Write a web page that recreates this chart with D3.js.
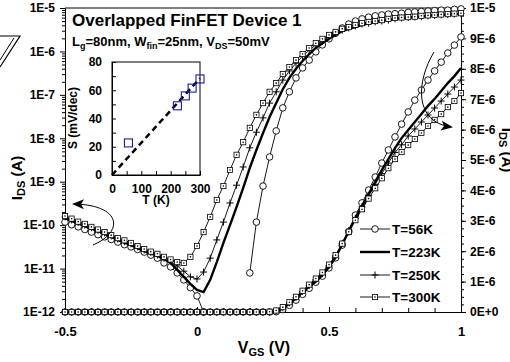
<!DOCTYPE html>
<html><head><meta charset="utf-8">
<script src="https://cdn.jsdelivr.net/npm/d3@7"></script>
<style>
body{margin:0;background:#fff}
svg{display:block}
text{font-family:"Liberation Sans",Arial,sans-serif;font-weight:bold;fill:#000}
</style>
</head><body>
<svg id="c" width="510" height="362"></svg>
<script>
// ---------------- DATA ----------------
const vgs = d3.range(-20, 41).map(i => i / 40);   // -0.5 .. 1.0 step 0.025 (V)
const seriesNames = ["T=56K", "T=223K", "T=250K", "T=300K"];
const seriesMarkers = ["circle", "none", "plus", "square"];

// log10(I_DS) on the left (log) axis
const log56 = [-9.93,-9.99,-10.04,-10.10,-10.16,-10.22,-10.27,-10.33,-10.39,-10.45,
  -10.50,-10.56,-10.62,-10.69,-10.76,-10.87,-10.96,-11.10,-11.26,-11.44,
  -11.63,-12,null,null,null,null,null,null,-11.10,-9.93,
  -9.10,-8.43,-7.83,-7.30,-6.93,-6.61,-6.38,-6.20,-6.01,-5.85,
  -5.71,-5.58,-5.46,-5.37,-5.30,-5.25,-5.21,-5.18,-5.16,-5.14,
  -5.13,-5.12,-5.10,-5.09,-5.08,-5.07,-5.06,-5.05,-5.05,-5.03,-5.02];
const log223 = [-9.84,-9.90,-9.96,-10.02,-10.08,-10.14,-10.20,-10.27,-10.34,-10.40,
  -10.46,-10.53,-10.60,-10.65,-10.71,-10.78,-10.87,-11.03,-11.19,-11.35,
  -11.49,-11.54,-11.26,-10.85,-10.41,-10.00,-9.58,-9.14,-8.68,-8.27,
  -7.88,-7.51,-7.19,-6.87,-6.61,-6.40,-6.22,-6.06,-5.92,-5.81,
  -5.71,-5.62,-5.53,-5.48,-5.44,-5.39,-5.36,-5.32,-5.30,-5.28,
  -5.25,-5.23,-5.22,-5.21,-5.20,-5.18,-5.17,-5.16,-5.15,-5.14,-5.13];
const log250 = [-9.81,-9.88,-9.94,-10.00,-10.06,-10.12,-10.18,-10.25,-10.32,-10.38,
  -10.43,-10.50,-10.57,-10.63,-10.69,-10.76,-10.83,-10.94,-11.06,-11.19,
  -11.24,-11.08,-10.76,-10.34,-9.93,-9.49,-9.08,-8.66,-8.22,-7.86,
  -7.53,-7.19,-6.93,-6.66,-6.45,-6.27,-6.11,-5.97,-5.85,-5.76,
  -5.67,-5.58,-5.51,-5.46,-5.41,-5.37,-5.35,-5.32,-5.30,-5.28,
  -5.25,-5.23,-5.22,-5.21,-5.20,-5.18,-5.17,-5.16,-5.15,-5.14,-5.13];
const log300 = [-9.79,-9.85,-9.92,-9.97,-10.04,-10.10,-10.16,-10.23,-10.30,-10.35,
  -10.41,-10.48,-10.55,-10.61,-10.66,-10.73,-10.79,-10.85,-10.87,-10.73,
  -10.48,-10.16,-9.81,-9.42,-9.10,-8.73,-8.38,-8.09,-7.76,-7.46,
  -7.19,-6.93,-6.73,-6.52,-6.36,-6.20,-6.06,-5.92,-5.81,-5.71,
  -5.62,-5.55,-5.48,-5.44,-5.39,-5.35,-5.32,-5.30,-5.28,-5.25,
  -5.23,-5.22,-5.21,-5.20,-5.18,-5.17,-5.16,-5.15,-5.14,-5.13,-5.12];

// I_DS in microamps on the right (linear) axis
const lin56 = [0,0,0,0,0,0,0,0,0,0, 0,0,0,0,0,0,0,0,0,0, 0,0,0,0,0,0,0,0,0,0, 0,
  0,0.01,0.08,0.22,0.39,0.58,0.78,0.98,1.18,1.45,1.78,2.20,2.64,3.19,3.59,4.01,4.44,4.90,5.33,5.76,
  6.18,6.58,6.97,7.30,7.63,7.93,8.22,8.52,8.78,9.05];
const lin223 = [0,0,0,0,0,0,0,0,0,0, 0,0,0,0,0,0,0,0,0,0, 0,0,0,0,0,0,0,0,0,0, 0,
  0,0.02,0.12,0.28,0.45,0.65,0.84,1.00,1.22,1.48,1.80,2.22,2.66,3.10,3.49,3.88,4.28,4.67,5.03,5.39,
  5.72,5.99,6.25,6.51,6.78,7.01,7.27,7.53,7.76,8.03];
const lin250 = [0,0,0,0,0,0,0,0,0,0, 0,0,0,0,0,0,0,0,0,0, 0,0,0,0,0,0,0,0,0,0, 0,
  0,0.03,0.14,0.30,0.48,0.68,0.87,1.06,1.26,1.53,1.85,2.26,2.68,3.08,3.46,3.84,4.20,4.55,4.90,5.25,
  5.50,5.79,6.02,6.25,6.48,6.71,6.94,7.17,7.40,7.63];
const lin300 = [0,0,0,0,0,0,0,0,0,0, 0,0,0,0,0,0,0,0,0,0, 0,0,0,0,0,0,0,0,0,0, 0,
  0.01,0.05,0.16,0.32,0.50,0.70,0.90,1.10,1.30,1.56,1.87,2.25,2.64,3.02,3.38,3.73,4.07,4.40,4.73,5.03,
  5.26,5.49,5.69,5.89,6.12,6.32,6.51,6.74,6.94,7.20];

// inset: subthreshold swing vs temperature
const insetT = [56, 223, 250, 273, 300];
const insetS = [22.7, 49, 56, 61.5, 68];
const fitT = [0, 300];
const fitS = [0, 68.5];

// tick labels
const xTicks = [-0.5, 0, 0.5, 1];
const xTickLabels = ["-0.5", "0", "0.5", "1"];
const logTicks = [1e-12, 1e-11, 1e-10, 1e-9, 1e-8, 1e-7, 1e-6, 1e-5];
const logTickLabels = ["1E-12","1E-11","1E-10","1E-9","1E-8","1E-7","1E-6","1E-5"];
const linTicksUA = [0,1,2,3,4,5,6,7,8,9,10];
const linTickLabels = ["0E+0","1E-6","2E-6","3E-6","4E-6","5E-6","6E-6","7E-6","8E-6","9E-6","1E-5"];
const insetYTicks = [0, 20, 40, 60, 80];
const insetXTicks = [0, 100, 200, 300];

// ---------------- DRAW ----------------
const svg = d3.select("#c");
svg.append("rect").attr("width", 510).attr("height", 362).attr("fill", "#fff");
const m = {l: 65, r: 461, t: 8, b: 312};
const x = d3.scaleLinear().domain([-0.5, 1]).range([m.l, m.r]);
const yLog = d3.scaleLog().domain([1e-12, 1e-5]).range([m.b, m.t]);
const yLin = d3.scaleLinear().domain([0, 1e-5]).range([m.b, m.t]);

function styleAxis(g, fs) {
  g.attr("font-family", null).attr("font-size", null);
  g.selectAll("path,line").attr("stroke", "#000").attr("stroke-width", 1);
  g.selectAll("text").style("font-size", fs + "px");
}

// left log axis
const minorLog = [];
for (let e = -12; e < -5; e++) for (let k = 2; k <= 9; k++) minorLog.push(k * Math.pow(10, e));
svg.append("g").attr("transform", `translate(${m.l},0)`)
  .call(d3.axisLeft(yLog).tickValues(minorLog).tickSizeInner(3).tickSizeOuter(0).tickFormat(""))
  .call(g => styleAxis(g, 12));
svg.append("g").attr("transform", `translate(${m.l},0)`)
  .call(d3.axisLeft(yLog).tickValues(logTicks).tickSizeInner(5).tickSizeOuter(0).tickPadding(5)
    .tickFormat((d, i) => logTickLabels[i]))
  .call(g => styleAxis(g, 12));

// right linear axis
const minorLin = d3.range(0, 40).map(i => i * 0.25e-6);
svg.append("g").attr("transform", `translate(${m.r},0)`)
  .call(d3.axisRight(yLin).tickValues(minorLin).tickSizeInner(3).tickSizeOuter(0).tickFormat(""))
  .call(g => styleAxis(g, 12));
svg.append("g").attr("transform", `translate(${m.r},0)`)
  .call(d3.axisRight(yLin).tickValues(linTicksUA.map(v => v * 1e-6)).tickSizeInner(5).tickSizeOuter(0).tickPadding(4)
    .tickFormat((d, i) => linTickLabels[i]))
  .call(g => styleAxis(g, 12));

// bottom axis (ticks inward)
svg.append("g").attr("transform", `translate(0,${m.b})`)
  .call(d3.axisBottom(x).tickValues(d3.range(-4, 10).map(i => i / 10)).tickSizeInner(-4).tickSizeOuter(0).tickFormat(""))
  .call(g => styleAxis(g, 13));
svg.append("g").attr("transform", `translate(0,${m.b})`)
  .call(d3.axisBottom(x).tickValues(xTicks).tickSizeInner(-5).tickSizeOuter(0).tickPadding(15)
    .tickFormat((d, i) => xTickLabels[i]))
  .call(g => styleAxis(g, 13));
// top border
svg.append("line").attr("x1", m.l).attr("x2", m.r).attr("y1", m.t).attr("y2", m.t)
  .attr("stroke", "#000").attr("stroke-width", 1);

// axis titles
const xt = svg.append("text").attr("x", 264).attr("y", 353).attr("text-anchor", "middle").style("font-size", "16px");
xt.append("tspan").text("V");
xt.append("tspan").attr("dy", 3).style("font-size", "11px").text("GS");
xt.append("tspan").attr("dy", -3).text(" (V)");

const ylt = svg.append("text").attr("transform", "translate(22,178) rotate(-90)").attr("text-anchor", "middle").style("font-size", "15px");
ylt.append("tspan").text("I");
ylt.append("tspan").attr("dy", 3).style("font-size", "11px").text("DS");
ylt.append("tspan").attr("dy", -3).text(" (A)");

const yrt = svg.append("text").attr("transform", "translate(502,150) rotate(90)").attr("text-anchor", "middle").style("font-size", "15px");
yrt.append("tspan").text("I");
yrt.append("tspan").attr("dy", 3).style("font-size", "11px").text("DS");
yrt.append("tspan").attr("dy", -3).text(" (A)");

// series
const series = [
  {name: seriesNames[0], marker: seriesMarkers[0], log: log56, lin: lin56},
  {name: seriesNames[1], marker: seriesMarkers[1], log: log223, lin: lin223},
  {name: seriesNames[2], marker: seriesMarkers[2], log: log250, lin: lin250},
  {name: seriesNames[3], marker: seriesMarkers[3], log: log300, lin: lin300},
];

function drawMarker(g, type, cx, cy) {
  if (type === "circle") {
    g.append("circle").attr("cx", cx).attr("cy", cy).attr("r", 3.3)
      .attr("fill", "#fff").attr("stroke", "#000").attr("stroke-width", 0.9);
  } else if (type === "plus") {
    g.append("path").attr("d", `M${cx-3.5},${cy}H${cx+3.5}M${cx},${cy-3.5}V${cy+3.5}`)
      .attr("stroke", "#000").attr("stroke-width", 1);
  } else if (type === "square") {
    g.append("rect").attr("x", cx - 2.6).attr("y", cy - 2.6).attr("width", 5.2).attr("height", 5.2)
      .attr("fill", "#fff").attr("stroke", "#000").attr("stroke-width", 0.8);
    g.append("circle").attr("cx", cx).attr("cy", cy).attr("r", 0.8).attr("fill", "#000");
  }
}

const plot = svg.append("g");
series.forEach(s => {
  const logPts = vgs.map((v, i) => [v, s.log[i]]);
  const linPts = vgs.map((v, i) => [v, s.lin[i]]);
  const lineLog = d3.line().defined(d => d[1] != null).x(d => x(d[0])).y(d => yLog(Math.pow(10, d[1])));
  const lineLin = d3.line().x(d => x(d[0])).y(d => yLin(d[1] * 1e-6));
  const sw = s.marker === "none" ? 2.4 : 0.9;
  plot.append("path").attr("d", lineLog(logPts)).attr("fill", "none").attr("stroke", "#000").attr("stroke-width", sw);
  plot.append("path").attr("d", lineLin(linPts)).attr("fill", "none").attr("stroke", "#000").attr("stroke-width", sw);
  if (s.marker !== "none") {
    const mg = plot.append("g");
    logPts.filter(d => d[1] != null).forEach(d => drawMarker(mg, s.marker, x(d[0]), yLog(Math.pow(10, d[1]))));
    linPts.forEach(d => drawMarker(mg, s.marker, x(d[0]), yLin(d[1] * 1e-6)));
  }
});

// arrows
const defs = svg.append("defs");
defs.append("marker").attr("id", "ah").attr("markerUnits", "userSpaceOnUse")
  .attr("markerWidth", 14).attr("markerHeight", 12).attr("refX", 10).attr("refY", 5).attr("orient", "auto")
  .append("path").attr("d", "M0,0 L12,5 L0,10 L3,5 z").attr("fill", "#000");
svg.append("path").attr("d", "M93,245 C124,232 122,205 74,204").attr("fill", "none")
  .attr("stroke", "#000").attr("stroke-width", 1).attr("marker-end", "url(#ah)");
svg.append("path").attr("d", "M434,52 C416,82 414,122 451,127").attr("fill", "none")
  .attr("stroke", "#000").attr("stroke-width", 1).attr("marker-end", "url(#ah)");
// hollow arrow fragment top-left
svg.append("path").attr("d", "M0,36 L20,36 L0,67").attr("fill", "none").attr("stroke", "#000").attr("stroke-width", 1.2);
svg.append("path").attr("d", "M14,38 L0,60").attr("fill", "none").attr("stroke", "#000").attr("stroke-width", 1);

// title
svg.append("text").attr("x", 72).attr("y", 26).style("font-size", "17px").text("Overlapped FinFET Device 1");
const st = svg.append("text").attr("x", 72).attr("y", 46).style("font-size", "13px");
st.append("tspan").text("L");
st.append("tspan").attr("dy", 3).style("font-size", "9px").text("g");
st.append("tspan").attr("dy", -3).text("=80nm, W");
st.append("tspan").attr("dy", 3).style("font-size", "9px").text("fin");
st.append("tspan").attr("dy", -3).text("=25nm, V");
st.append("tspan").attr("dy", 3).style("font-size", "9px").text("DS");
st.append("tspan").attr("dy", -3).text("=50mV");

// legend
const legY = [229, 252, 275, 297];
series.forEach((s, i) => {
  const g = svg.append("g");
  g.append("line").attr("x1", 360).attr("x2", 390).attr("y1", legY[i]).attr("y2", legY[i])
    .attr("stroke", "#000").attr("stroke-width", s.marker === "none" ? 2.4 : 0.9);
  drawMarker(g, s.marker, 375, legY[i]);
  g.append("text").attr("x", 392).attr("y", legY[i]).attr("dy", "0.36em").style("font-size", "13.5px").text(s.name);
});

// inset
const ix = d3.scaleLinear().domain([0, 300]).range([112, 200]);
const iy = d3.scaleLinear().domain([0, 80]).range([175, 62]);
svg.append("rect").attr("x", 112).attr("y", 62).attr("width", 88).attr("height", 113)
  .attr("fill", "#fff").attr("stroke", "#000").attr("stroke-width", 1);
svg.append("g").attr("transform", "translate(112,0)")
  .call(d3.axisLeft(iy).tickValues(d3.range(0, 81, 10)).tickSizeInner(-4).tickSizeOuter(0).tickPadding(10)
    .tickFormat(d => insetYTicks.includes(d) ? String(d) : ""))
  .call(g => styleAxis(g, 12));
svg.append("g").attr("transform", "translate(0,175)")
  .call(d3.axisBottom(ix).tickValues(d3.range(0, 301, 50)).tickSizeInner(-4).tickSizeOuter(0).tickPadding(9)
    .tickFormat(d => insetXTicks.includes(d) ? String(d) : ""))
  .call(g => styleAxis(g, 12));
svg.append("text").attr("x", 156).attr("y", 204).attr("text-anchor", "middle").style("font-size", "12px").text("T (K)");
svg.append("text").attr("transform", "translate(77,118) rotate(-90)").attr("text-anchor", "middle")
  .style("font-size", "12px").text("S (mV/dec)");
svg.append("path").attr("d", d3.line().x(d => ix(d[0])).y(d => iy(d[1]))(fitT.map((t, i) => [t, fitS[i]])))
  .attr("stroke", "#000").attr("stroke-width", 2.5).attr("stroke-dasharray", "6,4").attr("fill", "none");
insetT.forEach((t, i) => {
  svg.append("rect").attr("x", ix(t) - 4).attr("y", iy(insetS[i]) - 4).attr("width", 8).attr("height", 8)
    .attr("fill", "none").attr("stroke", "#1c1ca0").attr("stroke-width", 1.1);
});
</script>
</body></html>
